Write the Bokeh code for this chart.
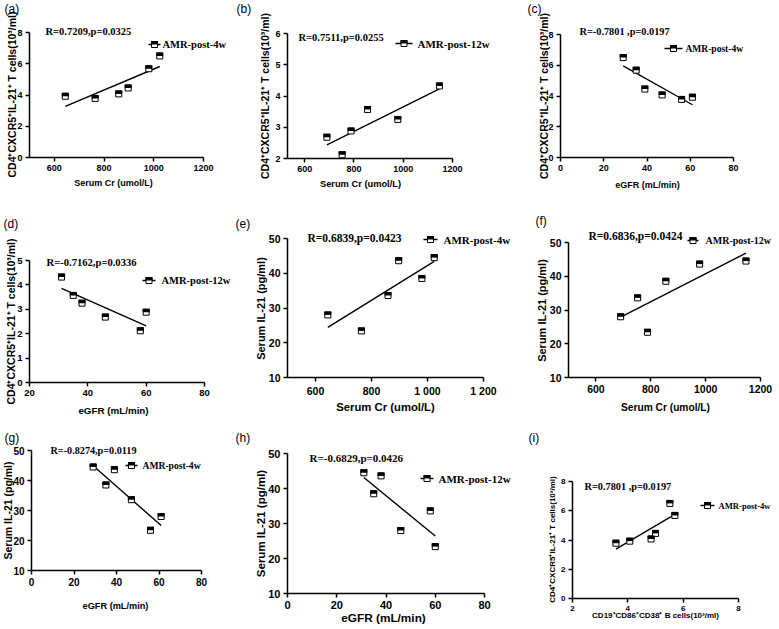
import math
import numpy as np
from bokeh.plotting import figure
from bokeh.models import Label, FixedTicker, LinearAxis, Range1d
from bokeh.embed import file_html
from bokeh.resources import INLINE

# ---------------- data ----------------
cr_4w    = [644, 764, 859, 897, 980, 1024]
egfr_4w  = [61, 56, 47, 39, 35, 29]
tfh_4w   = [3.92, 3.78, 4.07, 4.45, 5.68, 6.50]
il21_4w  = [28.0, 23.4, 33.6, 43.6, 38.5, 44.5]
bcell_4w = [4.07, 3.57, 4.84, 5.00, 5.70, 5.52]

cr_12w   = [690, 752, 788, 855, 978, 1147]
egfr_12w = [46, 58, 60, 35, 38, 31]
tfh_12w  = [2.68, 2.12, 2.88, 3.57, 3.25, 4.32]
il21_12w = [28.0, 33.6, 23.4, 38.5, 43.6, 44.5]

ticks_cr      = [600, 800, 1000, 1200]
labels_cr_sp  = ["600", "800", "1 000", "1 200"]
ticks_egfr    = [0, 20, 40, 60, 80]
ticks_egfr_d  = [20, 40, 60, 80]
ticks_bcell   = [2, 4, 6, 8]
ticks_tfh     = [0, 2, 4, 6, 8]
ticks_tfh_b   = [2, 3, 4, 5, 6]
ticks_tfh_d   = [0, 1, 2, 3, 4, 5]
ticks_il21    = [10, 20, 30, 40, 50]

stat_texts = ["R=0.7209,p=0.0325", "R=0.7511,p=0.0255", "R=-0.7801 ,p=0.0197",
              "R=-0.7162,p=0.0336", "R=0.6839,p=0.0423", "R=0.6836,p=0.0424",
              "R=-0.8274,p=0.0119", "R=-0.6829,p=0.0426", "R=0.7801 ,p=0.0197"]
legend_4w = "AMR-post-4w"
legend_12w = "AMR-post-12w"
letters = ["(a)", "(b)", "(c)", "(d)", "(e)", "(f)", "(g)", "(h)", "(i)"]

TFH = "CD4\u207aCXCR5\u207aIL-21\u207a T cells(10\u00b3/ml)"
IL = "Serum IL-21 (pg/ml)"
CR = "Serum Cr (umol/L)"
EG = "eGFR (mL/min)"
BC = "CD19\u207aCD86\u207aCD38\u207a B cells(10\u00b3/ml)"

SANS = "Liberation Sans"
SERIF = "Liberation Serif"

W, H = 777, 627      # canvas size (page coordinates start at the canvas corner)

# layout / style specs (pixel positions in page coordinates)
panels = [
    dict(frame=(29, 203, 32, 157), xr=(500, 1200), yr=(0, 8),
         xt=ticks_cr, yt=ticks_tfh, x=cr_4w, y=tfh_4w, tfs=9, let=(4, 8),
         ylab=(TFH, 11, 94, 10.5), xlab=(CR, 113, 182, 9), st=(45, 31, 10.5),
         leg=(148, 160, 44, legend_4w, 162, 10.5)),
    dict(frame=(287, 452, 33, 158), xr=(530, 1200), yr=(2, 6),
         xt=ticks_cr, yt=ticks_tfh_b, x=cr_12w, y=tfh_12w, tfs=9, let=(236, 8),
         ylab=(TFH, 264, 95.5, 10.5), xlab=(CR, 360, 183, 9.3), st=(298, 37, 10.5),
         leg=(395, 412, 43, legend_12w, 417, 11)),
    dict(frame=(560, 733, 34, 157), xr=(0, 80), yr=(0, 8),
         xt=ticks_egfr, yt=ticks_tfh, x=egfr_4w, y=tfh_4w, tfs=9, let=(527, 8),
         ylab=(TFH, 543, 95.5, 10.5), xlab=(EG, 647, 184, 9), st=(579, 31, 10.3),
         leg=(664, 682, 48, legend_4w, 685, 9.5)),
    dict(frame=(29, 204, 260, 382), xr=(20, 80), yr=(0, 5),
         xt=ticks_egfr_d, yt=ticks_tfh_d, x=egfr_12w, y=tfh_12w, tfs=9.5, let=(3, 223),
         ylab=(TFH, 10, 321, 10.5), xlab=(EG, 113, 410, 9.8), st=(46, 262, 10.6),
         leg=(142, 155, 280, legend_12w, 161, 10.5)),
    dict(frame=(287, 483, 238, 377), xr=(500, 1200), yr=(10, 50),
         xt=ticks_cr, xtl=labels_cr_sp, yt=ticks_il21, x=cr_4w, y=il21_4w, tfs=10.5, let=(235, 223),
         ylab=(IL, 260, 308, 11), xlab=(CR, 385, 406, 11.3), st=(307, 237, 11.5),
         leg=(423, 437, 239, legend_4w, 443, 11)),
    dict(frame=(568, 760, 242, 377), xr=(500, 1200), yr=(10, 50),
         xt=ticks_cr, yt=ticks_il21, x=cr_12w, y=il21_12w, tfs=10.5, let=(535, 220),
         ylab=(IL, 541, 310, 11), xlab=(CR, 665, 407, 10.2), st=(588, 235, 11.5),
         leg=(687, 698, 240, legend_12w, 705, 10)),
    dict(frame=(31, 201, 450, 570), xr=(0, 80), yr=(10, 50),
         xt=ticks_egfr, yt=ticks_il21, x=egfr_4w, y=il21_4w, tfs=10, let=(4, 437),
         ylab=(IL, 7, 510, 10.5), xlab=(EG, 115, 605, 9.2), st=(50, 450, 10.2),
         leg=(125, 137, 465, legend_4w, 142, 9.6)),
    dict(frame=(287, 484, 453, 593), xr=(0, 80), yr=(10, 50),
         xt=ticks_egfr, yt=ticks_il21, x=egfr_12w, y=il21_12w, tfs=11, let=(235, 437),
         ylab=(IL, 260, 523, 11.5), xlab=(EG, 383, 617, 11.8), st=(309, 457, 11),
         leg=(420, 433, 478, legend_12w, 438, 11)),
    dict(frame=(572, 738, 481, 598), xr=(2, 8), yr=(0, 8),
         xt=ticks_bcell, yt=ticks_tfh, x=bcell_4w, y=tfh_4w, tfs=8, let=(528, 437),
         ylab=(TFH, 552, 539, 8), xlab=(BC, 655, 615, 8), st=(584, 486, 10.3),
         leg=(700, 714, 505, legend_4w, 718, 8.6)),
]

p = figure(width=W, height=H, x_range=(0, W), y_range=(0, H),
           x_axis_type=None, y_axis_type=None, min_border=0, title=None,
           output_backend="svg", toolbar_location=None, tools="")
p.outline_line_color = None

xranges, yranges = {}, {}
pending = []


def style_axis(ax, ticks, fs):
    ax.ticker = FixedTicker(ticks=ticks)
    ax.axis_line_width = 1.5
    ax.axis_line_color = "black"
    ax.major_tick_line_width = 1.5
    ax.major_tick_line_color = "black"
    ax.major_tick_out = 4
    ax.major_tick_in = 0
    ax.minor_tick_line_color = None
    ax.major_label_text_font = SANS
    ax.major_label_text_font_style = "bold"
    ax.major_label_text_color = "black"
    ax.major_label_text_font_size = f"{fs}px"
    ax.major_label_standoff = 3


def lab(px, py, text, font, size, style="bold", align="left", angle=0.0):
    p.add_layout(Label(x=px, y=H - py, x_units="screen", y_units="screen",
                       text=text, text_font=font, text_font_size=f"{size}px",
                       text_font_style=style, text_align=align,
                       text_baseline="middle", angle=angle, text_color="black"))


for i, s in enumerate(panels):
    L, R, T, B = s["frame"]
    x0, x1 = s["xr"]
    y0, y1 = s["yr"]
    ppx = (R - L) / (x1 - x0)
    ppy = (B - T) / (y1 - y0)
    xn, yn = f"x{i}", f"y{i}"
    xranges[xn] = Range1d(x0 - L / ppx, x0 + (W - L) / ppx)
    yranges[yn] = Range1d(y0 - (H - B) / ppy, y0 + B / ppy)

    xa = LinearAxis(x_range_name=xn, y_range_name=yn, fixed_location=y0, bounds=(x0, x1))
    style_axis(xa, s["xt"], s["tfs"])
    if "xtl" in s:
        xa.major_label_overrides = {t: l for t, l in zip(s["xt"], s["xtl"])}
    ya = LinearAxis(x_range_name=xn, y_range_name=yn, fixed_location=x0, bounds=(y0, y1))
    style_axis(ya, s["yt"], s["tfs"])
    pending.append((xa, ya))

    def marker(xv, yv):
        p.scatter(xv, yv, marker="square", size=6, fill_color="white",
                  line_color="black", line_width=1, x_range_name=xn, y_range_name=yn)
        p.rect(xv, [v + 1.75 / ppy for v in yv], width=7, height=3.5,
               width_units="screen", height_units="screen",
               fill_color="black", line_color=None, x_range_name=xn, y_range_name=yn)

    xs, ys = s["x"], s["y"]
    coef = np.polyfit(xs, ys, 1)
    xe = [min(xs), max(xs)]
    p.line(xe, list(np.polyval(coef, xe)), line_color="black", line_width=1.4,
           x_range_name=xn, y_range_name=yn)
    marker(xs, ys)

    # legend entry
    lx0, lx1, ly, ltext, ltx, lfs = s["leg"]
    to_x = lambda px: x0 + (px - L) / ppx
    to_y = lambda py: y0 + (B - py) / ppy
    p.line([to_x(lx0), to_x(lx1)], [to_y(ly)] * 2, line_color="black", line_width=1.4,
           x_range_name=xn, y_range_name=yn)
    marker([to_x((lx0 + lx1) / 2)], [to_y(ly)])

    lab(ltx, ly, ltext, SERIF, lfs)
    sx, sy, sfs = s["st"]
    lab(sx, sy, stat_texts[i], SERIF, sfs)
    t, cx, cy, fs = s["xlab"]
    lab(cx, cy, t, SANS, fs, align="center")
    t, cx, cy, fs = s["ylab"]
    lab(cx, cy, t, SANS, fs, align="center", angle=math.pi / 2)
    lx, lyy = s["let"]
    lab(lx, lyy, letters[i], SANS, 12, style="normal")

p.extra_x_ranges = xranges
p.extra_y_ranges = yranges
for xa, ya in pending:
    p.add_layout(xa, "below")
    p.add_layout(ya, "left")

open("out.html", "w").write(file_html(p, INLINE))
